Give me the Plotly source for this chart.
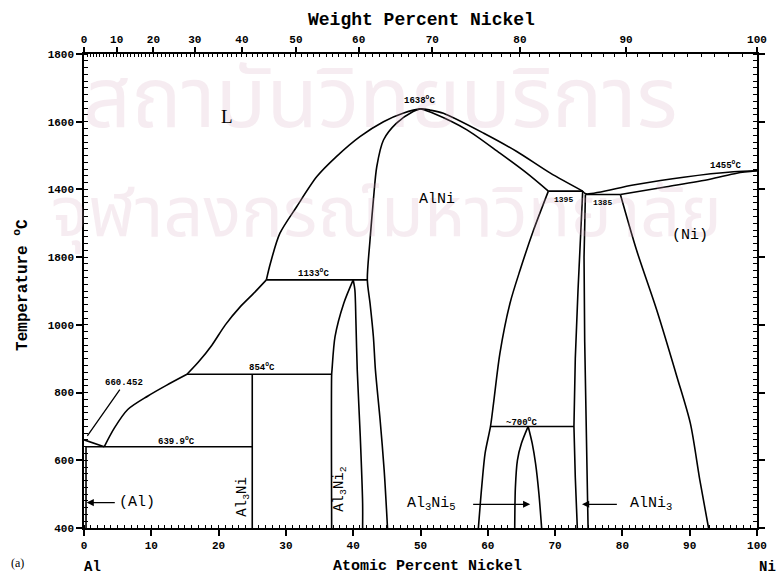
import plotly.graph_objects as go

# ---------------- data (atomic % Ni, temperature °C) ----------------
liq_al0_x = [0, 1.5, 3.0]
liq_al0_t = [660.452, 650, 639.9]
liq_al1_x = [3.0, 4.5, 6.5, 9.5, 12.3, 15.3]
liq_al1_t = [639.9, 695, 750, 790, 822, 854]
liq_al2_x = [15.3, 17.0, 19.0, 21.0, 23.2, 25.2, 27.1]
liq_al2_t = [854, 890, 940, 1000, 1053, 1093, 1133]
liq_al3_x = [27.1, 27.7, 29.1, 31.6, 34.6, 37.5, 41.0, 44.5, 47.4, 50.0]
liq_al3_t = [1133, 1182, 1270, 1349, 1438, 1497, 1556, 1600, 1625, 1638]

liq_mid_x = [51.5, 53.4, 59.4, 64.3, 69.3, 74.1]
liq_mid_t = [1634, 1625, 1566, 1512, 1448, 1395]

liq_ni_x = [74.1, 74.6, 81.6, 89.1, 96.5, 100.0]
liq_ni_t = [1395, 1387, 1413, 1436, 1452, 1455]

sol_ni_x = [79.7, 86.6, 93.0, 97.0, 100.0]
sol_ni_t = [1385, 1408, 1430, 1448, 1455]

solv_ni_x = [79.7, 82.1, 85.1, 88.1, 90.1, 91.5, 92.8]
solv_ni_t = [1385, 1221, 1044, 847, 709, 542, 400]

alni_left_x = [50.0, 48.9, 46.4, 44.5, 43.5, 43.0, 42.5, 42.1, 42.5, 43.0, 43.3, 44.0, 44.6, 45.1]
alni_left_t = [1638, 1630, 1595, 1546, 1467, 1369, 1251, 1133, 1064, 965, 867, 719, 571, 400]

alni_sol_x = [50.0, 51.9, 56.9, 61.8, 65.8, 69.0]
alni_sol_t = [1638, 1625, 1576, 1507, 1448, 1395]
alni_solv_x = [69.0, 66.8, 64.8, 63.3, 61.8, 60.85, 60.4, 59.6, 59.1, 58.6]
alni_solv_t = [1395, 1280, 1162, 1064, 916, 768, 700, 621, 522, 400]

al3ni2_l_x = [36.8, 36.8, 36.85, 37.3, 38.6, 40.0]
al3ni2_l_t = [400, 854, 867, 965, 1064, 1133]
al3ni2_r_x = [40.0, 40.25, 40.4, 40.6, 41.05, 41.4, 41.4]
al3ni2_r_t = [1133, 1103, 1014, 867, 670, 473, 400]

al3ni_x = [25.0, 25.0]
al3ni_t = [400, 854]

al_solvus_x = [0.3, 0.3]
al_solvus_t = [639.9, 400]

alni3_left_x = [74.1, 73.8, 73.4, 73.0, 72.8, 73.0, 73.3]
alni3_left_t = [1395, 1280, 1100, 900, 700, 550, 400]
alni3_right_x = [74.5, 74.3, 74.4, 74.6, 74.9]
alni3_right_t = [1385, 1200, 950, 700, 400]

al3ni5_x = [64.0, 64.1, 64.4, 65.0, 66.0, 66.6, 67.1, 67.6, 68.0]
al3ni5_t = [400, 520, 600, 650, 700, 650, 590, 500, 400]

# invariant horizontals: (x_start, x_end, T)
inv_x0 = [0.3, 15.3, 27.1, 69.0, 74.5, 60.4]
inv_x1 = [25.0, 36.8, 42.1, 74.1, 79.7, 72.8]
inv_t = [639.9, 854, 1133, 1395, 1385, 700]

# axes
at_ticks = list(range(0, 101, 10))
t_ticks = list(range(400, 1801, 200))
t_labels = ["400", "600", "800", "1000", "1800", "1400", "1600", "1800"]
wt_ticks = list(range(0, 101, 10))
M_AL, M_NI = 26.9815, 58.6934


def wt_to_at(w):
    n_ni = w / M_NI
    n_al = (100 - w) / M_AL
    return 100 * n_ni / (n_ni + n_al)


# ---------------- figure ----------------
fig = go.Figure()


def curve(xs, ts, smooth=True):
    line = dict(color="black", width=1.6)
    if smooth:
        line.update(shape="spline", smoothing=0.8)
    fig.add_trace(go.Scatter(x=xs, y=ts, mode="lines", line=line,
                             showlegend=False, hoverinfo="skip"))


curve(liq_al0_x, liq_al0_t, False)
curve(liq_al1_x, liq_al1_t)
curve(liq_al2_x, liq_al2_t)
curve(liq_al3_x + liq_mid_x, liq_al3_t + liq_mid_t)
curve(liq_ni_x, liq_ni_t)
curve(sol_ni_x, sol_ni_t)
curve(solv_ni_x, solv_ni_t)
curve(alni_left_x, alni_left_t)
curve(alni_sol_x, alni_sol_t)
curve(alni_solv_x, alni_solv_t)
curve(al3ni2_l_x, al3ni2_l_t)
curve(al3ni2_r_x, al3ni2_r_t)
curve(al3ni_x, al3ni_t, False)
curve(al_solvus_x, al_solvus_t, False)
curve(alni3_left_x, alni3_left_t, False)
curve(alni3_right_x, alni3_right_t, False)
curve(al3ni5_x[:5], al3ni5_t[:5])
curve(al3ni5_x[4:], al3ni5_t[4:])
for a, b, t in zip(inv_x0, inv_x1, inv_t):
    curve([a, b], [t, t], False)

# dummy trace on top axis
fig.add_trace(go.Scatter(x=[0, 100], y=[400, 400], xaxis="x2", mode="lines",
                         line=dict(width=0), showlegend=False, hoverinfo="skip"))

MONO = "Liberation Mono"
SERIF = "Liberation Serif"
THAI = "Noto Sans Thai, Noto Sans, sans-serif"
WM = "rgba(215,170,190,0.22)"

anns = []

# watermark
anns.append(dict(text="สถาบันวิทยบริการ", x=0.44, y=0.90, xref="paper", yref="paper",
                 xanchor="center", yanchor="middle", showarrow=False,
                 font=dict(size=84, color=WM, family=THAI)))
anns.append(dict(text="จุฬาลงกรณ์มหาวิทยาลัย", x=0.45, y=0.66, xref="paper", yref="paper",
                 xanchor="center", yanchor="middle", showarrow=False,
                 font=dict(size=70, color=WM, family=THAI)))


def lab(text, x, y, size=9, family=MONO, bold=True):
    anns.append(dict(text=text, x=x, y=y, xref="x", yref="y", showarrow=False,
                     xanchor="center", yanchor="middle",
                     font=dict(size=size, family=family, color="black",
                               weight="bold" if bold else "normal")))


lab("L", 21.2, 1615, size=19, family=SERIF, bold=False)
lab("1638<sup>o</sup>C", 49.9, 1663)
lab("1133<sup>o</sup>C", 34.1, 1152)
lab("854<sup>o</sup>C", 26.5, 876)
lab("639.9<sup>o</sup>C", 13.7, 658)
lab("~700<sup>o</sup>C", 65.0, 714)
lab("1395", 71.3, 1369, size=8)
lab("1385", 77.1, 1362, size=8)
lab("1455<sup>o</sup>C", 95.3, 1473)
lab("AlNi", 52.5, 1369, size=15, family=MONO, bold=False)
lab("(Ni)", 90.1, 1263, size=15, family=MONO, bold=False)
lab("Al<sub>3</sub>Ni<sub>5</sub>", 51.6, 470, size=15, family=MONO, bold=False)
lab("AlNi<sub>3</sub>", 84.2, 470, size=15, family=MONO, bold=False)
lab("(Al)", 7.9, 475, size=15, family=MONO, bold=False)

anns.append(dict(text="Al<sub>3</sub>Ni", x=23.6, y=492, xref="x", yref="y", textangle=-90,
                 xanchor="center", yanchor="middle", showarrow=False,
                 font=dict(size=14, family=MONO, color="black")))
anns.append(dict(text="Al<sub>3</sub>Ni<sub>2</sub>", x=38.0, y=515, xref="x", yref="y",
                 textangle=-90, xanchor="center", yanchor="middle", showarrow=False,
                 font=dict(size=14, family=MONO, color="black")))

# leader and arrows
anns.append(dict(text="660.452", x=0.5, y=672, ax=6.0, ay=828, xref="x", yref="y",
                 axref="x", ayref="y", showarrow=True, arrowhead=0, arrowwidth=1.3,
                 arrowcolor="black", standoff=0,
                 font=dict(size=9, family=MONO, color="black", weight="bold")))


def arrow(x_head, x_tail, y):
    anns.append(dict(text="", x=x_head, y=y, ax=x_tail, ay=y, xref="x", yref="y",
                     axref="x", ayref="y", showarrow=True, arrowhead=2, arrowsize=1.1,
                     arrowwidth=1.3, arrowcolor="black"))


arrow(66.3, 57.6, 470)
arrow(74.0, 79.4, 470)
arrow(0.4, 4.8, 475)


def ptext(text, x, y, size, family=MONO, bold=True, angle=0):
    anns.append(dict(text=text, x=x, y=y, xref="paper", yref="paper", textangle=angle,
                     xanchor="center", yanchor="middle", showarrow=False,
                     font=dict(size=size, family=family, color="black",
                               weight="bold" if bold else "normal")))


ptext("Weight Percent Nickel", 0.501, 1.071, 18)
ptext("Atomic Percent Nickel", 0.51, -0.082, 15)
ptext("Temperature <sup>o</sup>C", -0.092, 0.513, 16, angle=-90)
ptext("(a)", -0.099, -0.074, 12, family=SERIF, bold=False)
ptext("Al", 0.013, -0.082, 14)
ptext("Ni", 1.015, -0.082, 14)

TICKFONT = dict(size=11, family=MONO, color="black", weight="bold")

fig.update_layout(
    width=779, height=574,
    margin=dict(l=83.5, r=22, t=54, b=46),
    paper_bgcolor="white", plot_bgcolor="white",
    annotations=anns,
    xaxis=dict(range=[0, 100], tickvals=at_ticks, ticktext=[str(v) for v in at_ticks],
               ticks="outside", ticklen=6, tickwidth=1.5, tickcolor="black",
               minor=dict(dtick=1, ticks="inside", ticklen=3, tickwidth=1, tickcolor="black"),
               showline=True, linecolor="black", linewidth=1.5, mirror=True,
               showgrid=False, zeroline=False, tickfont=TICKFONT),
    xaxis2=dict(range=[0, 100], overlaying="x", side="top", anchor="y",
                tickmode="array", tickvals=[wt_to_at(w) for w in wt_ticks],
                ticktext=[str(w) for w in wt_ticks],
                ticks="outside", ticklen=6, tickwidth=1.5, tickcolor="black",
                minor=dict(tickmode="array", tickvals=[wt_to_at(w) for w in range(1, 100)],
                           ticks="inside", ticklen=3, tickwidth=1, tickcolor="black"),
                showline=False, showgrid=False, zeroline=False, tickfont=TICKFONT),
    yaxis=dict(range=[400, 1800], tickvals=t_ticks, ticktext=t_labels,
               ticks="outside", ticklen=6, tickwidth=1.5, tickcolor="black",
               minor=dict(dtick=20, ticks="inside", ticklen=4, tickwidth=1, tickcolor="black"),
               showline=True, linecolor="black", linewidth=1.5, mirror="ticks",
               showgrid=False, zeroline=False, tickfont=TICKFONT),
)

fig.write_html("out.html")
